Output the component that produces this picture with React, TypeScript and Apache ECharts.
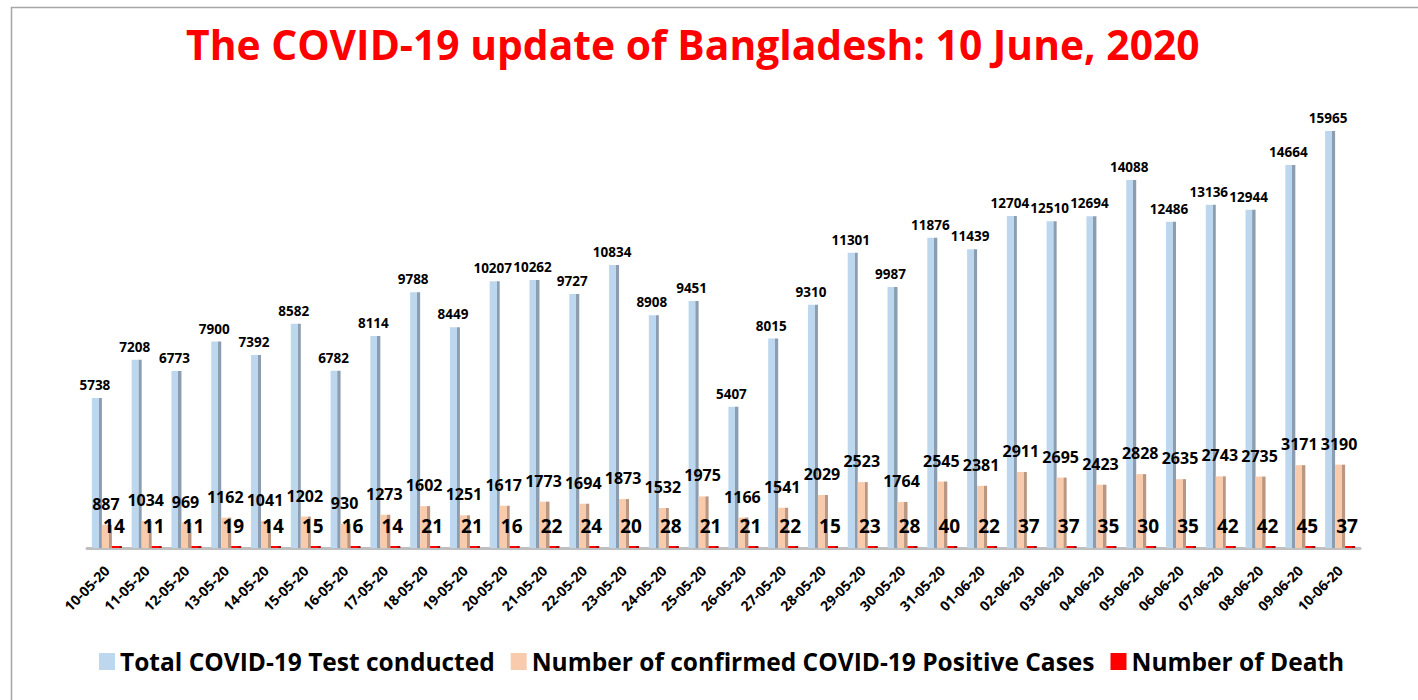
import React, { useEffect, useRef } from "react";
import * as echarts from "echarts";

const dates = [
  "10-05-20", "11-05-20", "12-05-20", "13-05-20", "14-05-20", "15-05-20", "16-05-20", "17-05-20",
  "18-05-20", "19-05-20", "20-05-20", "21-05-20", "22-05-20", "23-05-20", "24-05-20", "25-05-20",
  "26-05-20", "27-05-20", "28-05-20", "29-05-20", "30-05-20", "31-05-20", "01-06-20", "02-06-20",
  "03-06-20", "04-06-20", "05-06-20", "06-06-20", "07-06-20", "08-06-20", "09-06-20", "10-06-20",
];
const tests = [
  5738, 7208, 6773, 7900, 7392, 8582, 6782, 8114, 9788, 8449, 10207, 10262, 9727, 10834, 8908, 9451,
  5407, 8015, 9310, 11301, 9987, 11876, 11439, 12704, 12510, 12694, 14088, 12486, 13136, 12944, 14664, 15965,
];
const positives = [
  887, 1034, 969, 1162, 1041, 1202, 930, 1273, 1602, 1251, 1617, 1773, 1694, 1873, 1532, 1975,
  1166, 1541, 2029, 2523, 1764, 2545, 2381, 2911, 2695, 2423, 2828, 2635, 2743, 2735, 3171, 3190,
];
const deaths = [
  14, 11, 11, 19, 14, 15, 16, 14, 21, 21, 16, 22, 24, 20, 28, 21,
  21, 22, 15, 23, 28, 40, 22, 37, 37, 35, 30, 35, 42, 42, 45, 37,
];

const seriesNames = [
  "Total COVID-19 Test conducted",
  "Number of confirmed COVID-19 Positive Cases",
  "Number of Death",
];
const frontColors = ["#BDD7EE", "#F8CBAD", "#FF0000"];
const sideColors = ["#8C9DB0", "#B99782", "#B00000"];

const FONT = "'Open Sans', 'Noto Sans', sans-serif";

function faceGradient(front: string, side: string) {
  return new echarts.graphic.LinearGradient(0, 0, 1, 0, [
    { offset: 0, color: front },
    { offset: 0.68, color: front },
    { offset: 0.7, color: side },
    { offset: 1, color: side },
  ]);
}

export default function App() {
  const ref = useRef<HTMLDivElement>(null);
  useEffect(() => {
    document.body.style.margin = "0";
    if (!ref.current) return;
    const chart = echarts.init(ref.current, null, { renderer: "svg" });
    const values = [tests, positives, deaths];
    const labelCfg = [
      { fontSize: 13.5, distance: 6, offset: [-2, 0] },
      { fontSize: 16, distance: 13, offset: [-1, 0] },
      { fontSize: 19, distance: 11, offset: [-3, 0] },
    ];
    chart.setOption({
      animation: false,
      backgroundColor: "#ffffff",
      title: {
        text: "The COVID-19 update of Bangladesh: 10 June, 2020",
        left: 181,
        top: 18,
        textStyle: { color: "#FF0000", fontSize: 40.8, fontWeight: "bold", fontFamily: FONT },
      },
      graphic: [
        {
          type: "rect",
          shape: { x: 11.5, y: 7.5, width: 1420, height: 710 },
          style: { fill: "none", stroke: "#A6A6A6", lineWidth: 1.5 },
          silent: true,
        },
      ],
      legend: {
        bottom: 21,
        left: 94,
        itemWidth: 16,
        itemHeight: 17,
        itemGap: 16,
        textStyle: { fontSize: 24.5, fontWeight: "bold", color: "#000", fontFamily: FONT },
        data: seriesNames.map((n, i) => ({ name: n, icon: "rect", itemStyle: { color: frontColors[i] } })),
      },
      grid: { left: 87, right: 58, top: 130, bottom: 152 },
      xAxis: {
        type: "category",
        data: dates,
        axisTick: { show: false },
        axisLine: { show: true, lineStyle: { color: "#BFBFBF", width: 3 } },
        axisLabel: {
          interval: 0,
          rotate: 45,
          margin: 20,
          fontSize: 14,
          fontWeight: "bold",
          color: "#000",
          fontFamily: FONT,
        },
      },
      yAxis: {
        type: "value",
        min: 0,
        max: 16000,
        show: false,
        splitLine: { show: false },
      },
      series: values.map((v, i) => ({
        name: seriesNames[i],
        type: "bar",
        data: v,
        barWidth: 10,
        barGap: "0%",
        barMinHeight: i === 2 ? 2 : 0,
        itemStyle: { color: faceGradient(frontColors[i], sideColors[i]) },
        label: {
          show: true,
          position: "top",
          distance: labelCfg[i].distance,
          offset: labelCfg[i].offset,
          fontSize: labelCfg[i].fontSize,
          fontWeight: "bold",
          color: "#000",
          fontFamily: FONT,
        },
        z: 2 + i,
      })),
    });
    return () => chart.dispose();
  }, []);
  return <div ref={ref} style={{ width: 1418, height: 700 }} />;
}
